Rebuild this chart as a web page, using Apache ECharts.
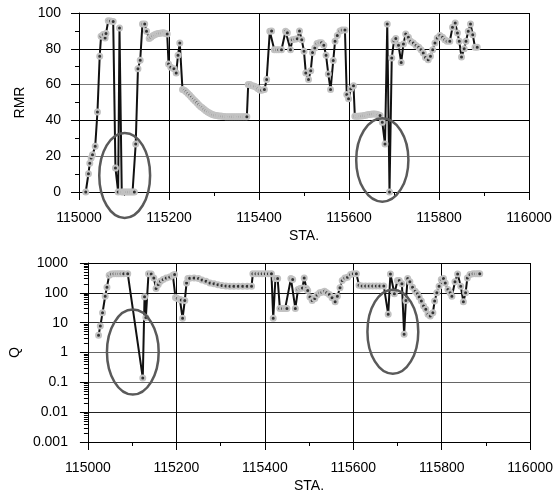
<!DOCTYPE html>
<html>
<head>
<meta charset="utf-8">
<script src="https://cdn.jsdelivr.net/npm/echarts@6/dist/echarts.min.js"></script>
<style>
  html, body { margin: 0; padding: 0; background: #fff; }
  #chart { width: 556px; height: 495px; }
</style>
</head>
<body>
<div id="chart"></div>
<script>
// RMR profile (top)
const rmrSta = [
  115015, 115021, 115024, 115027, 115030, 115036, 115041, 115046, 115049, 115054,
  115058, 115060, 115065, 115070, 115076, 115081, 115087, 115090, 115095, 115099,
  115103, 115107, 115111, 115115, 115119, 115123, 115126, 115131, 115136, 115141,
  115146, 115150, 115156, 115160, 115164, 115168, 115172, 115176, 115180, 115184,
  115188, 115192, 115196, 115199, 115204, 115211, 115216, 115220, 115224, 115230,
  115234, 115238, 115242, 115246, 115250, 115254, 115258, 115262, 115266, 115270,
  115274, 115278, 115282, 115286, 115290, 115294, 115298, 115302, 115306, 115310,
  115314, 115318, 115322, 115326, 115330, 115334, 115338, 115342, 115346, 115350,
  115354, 115358, 115362, 115366, 115370, 115373, 115376, 115380, 115384, 115388,
  115391, 115395, 115398, 115402, 115406, 115412, 115417, 115424, 115428, 115434,
  115439, 115444, 115450, 115459, 115463, 115470, 115474, 115480, 115485, 115490,
  115495, 115500, 115504, 115510, 115515, 115519, 115524, 115529, 115534, 115539,
  115544, 115549, 115554, 115559, 115565, 115569, 115574, 115580, 115585, 115591,
  115595, 115599, 115604, 115610, 115613, 115617, 115621, 115625, 115629, 115633,
  115637, 115641, 115645, 115649, 115653, 115657, 115661, 115665, 115669, 115674,
  115680, 115685, 115690, 115695, 115700, 115704, 115710, 115716, 115721, 115726,
  115732, 115737, 115743, 115749, 115755, 115760, 115765, 115770, 115776, 115781,
  115786, 115791, 115796, 115802, 115808, 115813, 115818, 115824, 115830, 115836,
  115841, 115845, 115850, 115856, 115860, 115865, 115870, 115875, 115880, 115885
];
const rmrVal = [
  0, 10.2, 16, 19, 20.8, 25.5, 44.7, 75.8, 87, 88,
  86, 88.5, 95.7, 95.5, 95.3, 13.4, 0, 91.6, 0, 0,
  0, 0, 0, 0, 0, 0, 26.8, 68.9, 73.6, 93.9,
  93.9, 89.8, 85.7, 86.5, 87.3, 87.8, 88.2, 88.5, 88.7, 88.8,
  88.9, 88.6, 88.2, 71.5, 69.7, 68.9, 66.5, 76.4, 83.2, 57.2,
  56.8, 56, 55, 54, 53, 51.8, 50.8, 49.8, 48.8, 47.8,
  47, 46.2, 45.4, 44.7, 44.1, 43.6, 43.2, 42.9, 42.7, 42.5,
  42.4, 42.3, 42.2, 42.1, 42.1, 42, 42, 42, 42, 42,
  42, 42, 42, 42, 42, 42, 60, 60, 59.4, 59.2,
  59, 58.4, 57.7, 57, 56.8, 57.2, 62.8, 89.8, 90, 79.5,
  79.5, 79.5, 79.5, 89.8, 89, 79.5, 85, 85.3, 85.6, 90,
  85, 78.6, 66.5, 62.8, 67.8, 78, 80.5, 83, 83.4, 83.4,
  82, 76.4, 65.9, 57.2, 73.4, 84.2, 87.5, 90, 90.5, 90.5,
  54.4, 52.1, 57.7, 59.4, 42.3, 42.3, 42.3, 42.4, 42.5, 42.7,
  42.9, 43.1, 43.3, 43.5, 43.6, 43.6, 43.5, 43.2, 42.8, 38.9,
  26.8, 93.9, 0, 74.9, 84.5, 85.7, 82, 72.4, 82.7, 88.3,
  86.4, 84.2, 83.2, 81.9, 80.8, 79.5, 77.7, 75.2, 73.9, 75.8,
  79.5, 83.2, 86, 87.5, 86.4, 85.1, 84.2, 84.2, 92, 94.4,
  88.8, 84.2, 75.4, 80, 84.2, 89.8, 93.9, 87.9, 80.8, 80.8
];

// Q profile (bottom, log scale)
const qSta = [
  115024, 115028, 115033, 115039, 115043, 115048, 115053, 115059, 115065, 115070,
  115075, 115081, 115090, 115124, 115128, 115131, 115137, 115143, 115149, 115154,
  115159, 115164, 115170, 115177, 115185, 115192, 115196, 115198, 115202, 115208,
  115211, 115214, 115219, 115223, 115226, 115230, 115240, 115250, 115258, 115267,
  115276, 115285, 115294, 115303, 115312, 115321, 115330, 115340, 115350, 115360,
  115370, 115373, 115380, 115387, 115394, 115401, 115408, 115415, 115419, 115424,
  115429, 115434, 115440, 115446, 115450, 115459, 115463, 115469, 115475, 115480,
  115485, 115489, 115494, 115497, 115502, 115507, 115513, 115518, 115524, 115529,
  115535, 115540, 115546, 115552, 115559, 115564, 115570, 115575, 115581, 115587,
  115594, 115600, 115607, 115613, 115620, 115628, 115636, 115644, 115652, 115660,
  115669, 115679, 115684, 115693, 115700, 115704, 115710, 115715, 115719, 115723,
  115728, 115734, 115740, 115745, 115749, 115754, 115759, 115764, 115769, 115774,
  115780, 115784, 115789, 115794, 115799, 115804, 115808, 115814, 115819, 115823,
  115830, 115836, 115843, 115849, 115854, 115858, 115864, 115871, 115877, 115882,
  115886
];
const qVal = [
  3.8, 7.7, 21.5, 77, 155, 388, 430, 440, 440, 440,
  440, 440, 440, 0.14, 74, 15, 440, 430, 316, 139,
  190, 245, 278, 316, 340, 390, 410, 70, 65, 60,
  58, 14, 55, 215, 300, 310, 316, 300, 270, 245,
  215, 200, 185, 175, 170, 167, 167, 167, 167, 167,
  167, 440, 440, 440, 440, 440, 440, 440, 14, 300,
  300, 30, 30, 30, 30, 300, 280, 30, 129, 140,
  145, 316, 140, 120, 72, 55, 65, 84, 100, 105,
  114, 100, 88, 68, 50, 77, 147, 258, 316, 333,
  408, 440, 440, 180, 170, 170, 170, 170, 170, 170,
  170, 19, 430, 93, 258, 258, 200, 4.1, 55, 300,
  233, 155, 114, 93, 72, 53, 36, 28, 19, 16.7,
  21.5, 53, 100, 167, 278, 300, 215, 129, 100, 77,
  233, 430, 167, 50, 100, 316, 408, 440, 440, 440,
  440
];

// highlighted zones, bounding box in data units: [staLeft, staRight, yLow, yHigh]
const rmrZones = [
  [115045, 115158, -14.5, 33],
  [115616, 115732, -5.4, 41.2]
];
const qZones = [
  [115043, 115160, 0.039, 27.4],
  [115632, 115747, 0.194, 128]
];

const zip = (xs, ys) => xs.map((x, i) => [x, ys[i]]);
const font = 'Liberation Sans, Arial, sans-serif';

function xAxisConf(gridIndex) {
  return {
    gridIndex: gridIndex,
    type: 'value',
    min: 115000,
    max: 116000,
    interval: 200,
    name: 'STA.',
    nameLocation: 'middle',
    nameGap: 37,
    nameTextStyle: { color: '#000', fontSize: 14, fontFamily: font, verticalAlign: 'top' },
    axisLine: { show: true, onZero: false, lineStyle: { color: '#000', width: 1 } },
    axisTick: { show: true, length: 8, lineStyle: { color: '#000' } },
    minorTick: { show: true, splitNumber: 2, length: 4, lineStyle: { color: '#000' } },
    axisLabel: { color: '#000', fontSize: 14, fontFamily: font, margin: 19, formatter: v => String(v) },
    splitLine: { show: true, lineStyle: { color: '#000', width: 1 } }
  };
}

function zoneSeries(xi, zones) {
  return {
    type: 'custom',
    xAxisIndex: xi,
    yAxisIndex: xi,
    silent: true,
    clip: false,
    z: 5,
    data: zones,
    renderItem: function (params, api) {
      const p1 = api.coord([api.value(0), api.value(2)]);
      const p2 = api.coord([api.value(1), api.value(3)]);
      return {
        type: 'ellipse',
        shape: {
          cx: (p1[0] + p2[0]) / 2,
          cy: (p1[1] + p2[1]) / 2,
          rx: Math.abs(p2[0] - p1[0]) / 2,
          ry: Math.abs(p2[1] - p1[1]) / 2
        },
        style: { fill: null, stroke: '#5a5a5a', lineWidth: 2.5 }
      };
    }
  };
}

// black line, light grey ring markers with a dark dot
const lineStyle = {
  type: 'line',
  symbol: 'circle',
  symbolSize: 5,
  lineStyle: { color: '#111', width: 2 },
  itemStyle: { color: '#333', borderColor: '#c2c2c2', borderWidth: 2 },
  emphasis: { disabled: true }
};

const chart = echarts.init(document.getElementById('chart'), null, { renderer: 'canvas' });

const option = {
  backgroundColor: '#fff',
  animation: false,
  textStyle: { fontFamily: font },
  grid: [
    { left: 79, top: 13, width: 450, height: 179 },
    { left: 82, top: 263, width: 449, height: 179 }
  ],
  xAxis: [xAxisConf(0), xAxisConf(1)],
  yAxis: [
    {
      gridIndex: 0,
      type: 'value',
      min: 0,
      max: 100,
      interval: 20,
      name: 'RMR',
      nameLocation: 'middle',
      nameGap: 51,
      nameTextStyle: { color: '#000', fontSize: 14, fontFamily: font },
      axisLine: { show: true, lineStyle: { color: '#000' } },
      axisTick: { show: true, length: 8, lineStyle: { color: '#000' } },
      minorTick: { show: true, splitNumber: 2, length: 4, lineStyle: { color: '#000' } },
      axisLabel: { color: '#000', fontSize: 14, fontFamily: font, margin: 18 },
      splitLine: { show: true, lineStyle: { color: ['#000', '#777', '#000', '#777', '#000', '#000'], width: 1 } }
    },
    {
      gridIndex: 1,
      type: 'log',
      logBase: 10,
      min: 0.001,
      max: 1000,
      interval: 1,
      name: 'Q',
      nameLocation: 'middle',
      nameGap: 62,
      nameTextStyle: { color: '#000', fontSize: 14, fontFamily: font },
      axisLine: { show: true, lineStyle: { color: '#000' } },
      axisTick: { show: true, length: 8, lineStyle: { color: '#000' } },
      minorTick: { show: true, splitNumber: 9, length: 4, lineStyle: { color: '#000' } },
      axisLabel: {
        color: '#000', fontSize: 14, fontFamily: font, margin: 20,
        formatter: v => String(+Number(v).toPrecision(3))
      },
      splitLine: { show: true, lineStyle: { color: ['#000', '#222', '#666', '#666', '#333', '#111', '#000'], width: 1 } }
    }
  ],
  series: [
    Object.assign({}, lineStyle, { xAxisIndex: 0, yAxisIndex: 0, data: zip(rmrSta, rmrVal) }),
    Object.assign({}, lineStyle, { xAxisIndex: 1, yAxisIndex: 1, data: zip(qSta, qVal) }),
    zoneSeries(0, rmrZones),
    zoneSeries(1, qZones)
  ]
};

chart.setOption(option);
</script>
</body>
</html>
